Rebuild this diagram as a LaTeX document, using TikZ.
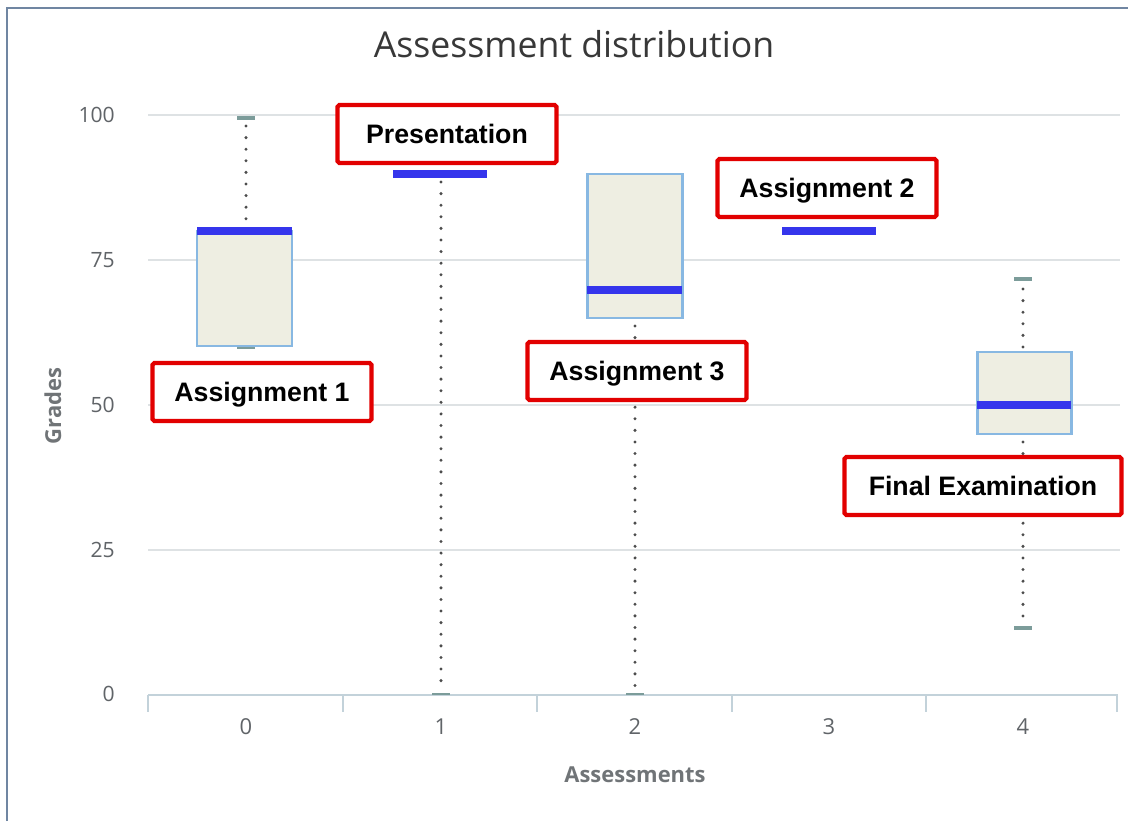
\documentclass[tikz,border=0pt]{standalone}
\usepackage{fontspec}
\setmainfont{Open Sans}
\newfontfamily\labelfont{Liberation Sans}
\usetikzlibrary{positioning,calc}
\definecolor{framecol}{HTML}{7086A2}
\definecolor{gridcol}{HTML}{DEE2E4}
\definecolor{axiscol}{HTML}{C3D2DA}
\definecolor{boxfill}{HTML}{EEEEE2}
\definecolor{boxline}{HTML}{88B8E2}
\definecolor{mediancol}{HTML}{3535EC}
\definecolor{capcol}{HTML}{7C9C9A}
\definecolor{tickcol}{HTML}{606468}
\definecolor{tagred}{HTML}{E20000}
\tikzset{
gridline/.style = {draw=gridcol, line width=0.6pt},
axisline/.style = {draw=axiscol, line width=0.8pt},
qbox/.style = {draw=boxline, fill=boxfill, line width=1.7pt},
median/.style = {draw=mediancol, line width=4pt},
whiskercap/.style = {draw=capcol, line width=2.3pt},
whisker/.style = {draw=black!70, line width=1.9pt, line cap=round, dash pattern=on 0pt off 6.6pt},
tag/.style = {draw=tagred, fill=white, rectangle, rounded corners=1pt, line width=2.4pt, minimum width=4.38cm, minimum height=1.16cm, text depth=0pt, font=\labelfont\fontsize{15.2}{17}\selectfont\bfseries},
yval/.style = {anchor=east, text=tickcol, font=\fontsize{12}{14}\selectfont},
xval/.style = {text=tickcol, font=\fontsize{12.5}{14}\selectfont},
axtitle/.style = {text=tickcol!90, font=\fontsize{12.5}{14}\selectfont\bfseries}
}
\begin{document}
\begin{tikzpicture}[x=0.02cm, y=-0.02cm]
    \useasboundingbox (0,0) rectangle (1128,821);
    \draw [framecol, line width=1.3pt] (7,821) -- (7,8) -- (1128,8);

    % grid and axis
    \coordinate (g100) at (148,115);
    \coordinate (g75) at (148,260);
    \coordinate (g50) at (148,405);
    \coordinate (g25) at (148,550);
    \coordinate (g0) at (148,695);
    \draw [gridline] (g100) -- ++(972,0);
    \draw [gridline] (g75) -- ++(972,0);
    \draw [gridline] (g50) -- ++(972,0);
    \draw [gridline] (g25) -- ++(972,0);
    \draw [axisline] (g0) -- ++(970,0);
    \draw [axisline] (148,695) -- (148,712);
    \draw [axisline] (343,695) -- (343,712);
    \draw [axisline] (537,695) -- (537,712);
    \draw [axisline] (732,695) -- (732,712);
    \draw [axisline] (926,695) -- (926,712);
    \draw [axisline] (1117,695) -- (1117,712);

    \node [yval] (y100) at (121,115) {100};
    \node [yval] (y75) at (121,260) {75};
    \node [yval] (y50) at (121,405) {50};
    \node [yval] (y25) at (121,550) {25};
    \node [yval] (y0) at (121,694) {0};

    \node [xval] (x0) at (246,727) {0};
    \node [xval] (x1) at (441,727) {1};
    \node [xval] (x2) at (635,727) {2};
    \node [xval] (x3) at (829,727) {3};
    \node [xval] (x4) at (1023,727) {4};

    \node [axtitle] (xtitle) at (635,775) {Assessments};
    \node [axtitle, rotate=90] (ytitle) at (53,406) {Grades};
    \node [text=black!78, font=\fontsize{20.3}{24}\selectfont] (title) at (574,44) {Assessment distribution};

    % assessment 0
    \draw [whisker] (246,126) -- (246,231);
    \draw [qbox] (197,231) rectangle (292,346);
    \draw [whiskercap] (237,118) -- (255,118);
    \draw [whiskercap, line width=1.5pt] (237,348) -- (255,348);
    \draw [median] (197,231) -- (292,231);

    % assessment 1
    \draw [whisker] (441,182) -- (441,692);
    \draw [whiskercap, line width=1.2pt] (432,694) -- (450,694);
    \draw [median] (393,174) -- (487,174);

    % assessment 2
    \draw [whisker] (635,326) -- (635,692);
    \draw [qbox] (587,174) rectangle (682,318);
    \draw [whiskercap, line width=1.2pt] (626,694) -- (644,694);
    \draw [median] (587,290) -- (682,290);

    % assessment 3
    \draw [median] (782,231) -- (876,231);

    % assessment 4
    \draw [whisker] (1023,289) -- (1023,352);
    \draw [whisker] (1023,442) -- (1023,622);
    \draw [qbox] (977,352) rectangle (1071,434);
    \draw [whiskercap] (1014,279) -- (1032,279);
    \draw [whiskercap] (1014,628) -- (1032,628);
    \draw [median] (977,405) -- (1071,405);

    % red tags
    \node [tag] (tag1) at (262,392) {Assignment 1};
    \node [tag] (tagp) at (447,134) {Presentation};
    \node [tag] (tag3) at (637,371) {Assignment 3};
    \node [tag] (tag2) at (827,188) {Assignment 2};
    \node [tag, minimum width=5.54cm] (tagf) at (983,486) {Final Examination};
\end{tikzpicture}
\end{document}
